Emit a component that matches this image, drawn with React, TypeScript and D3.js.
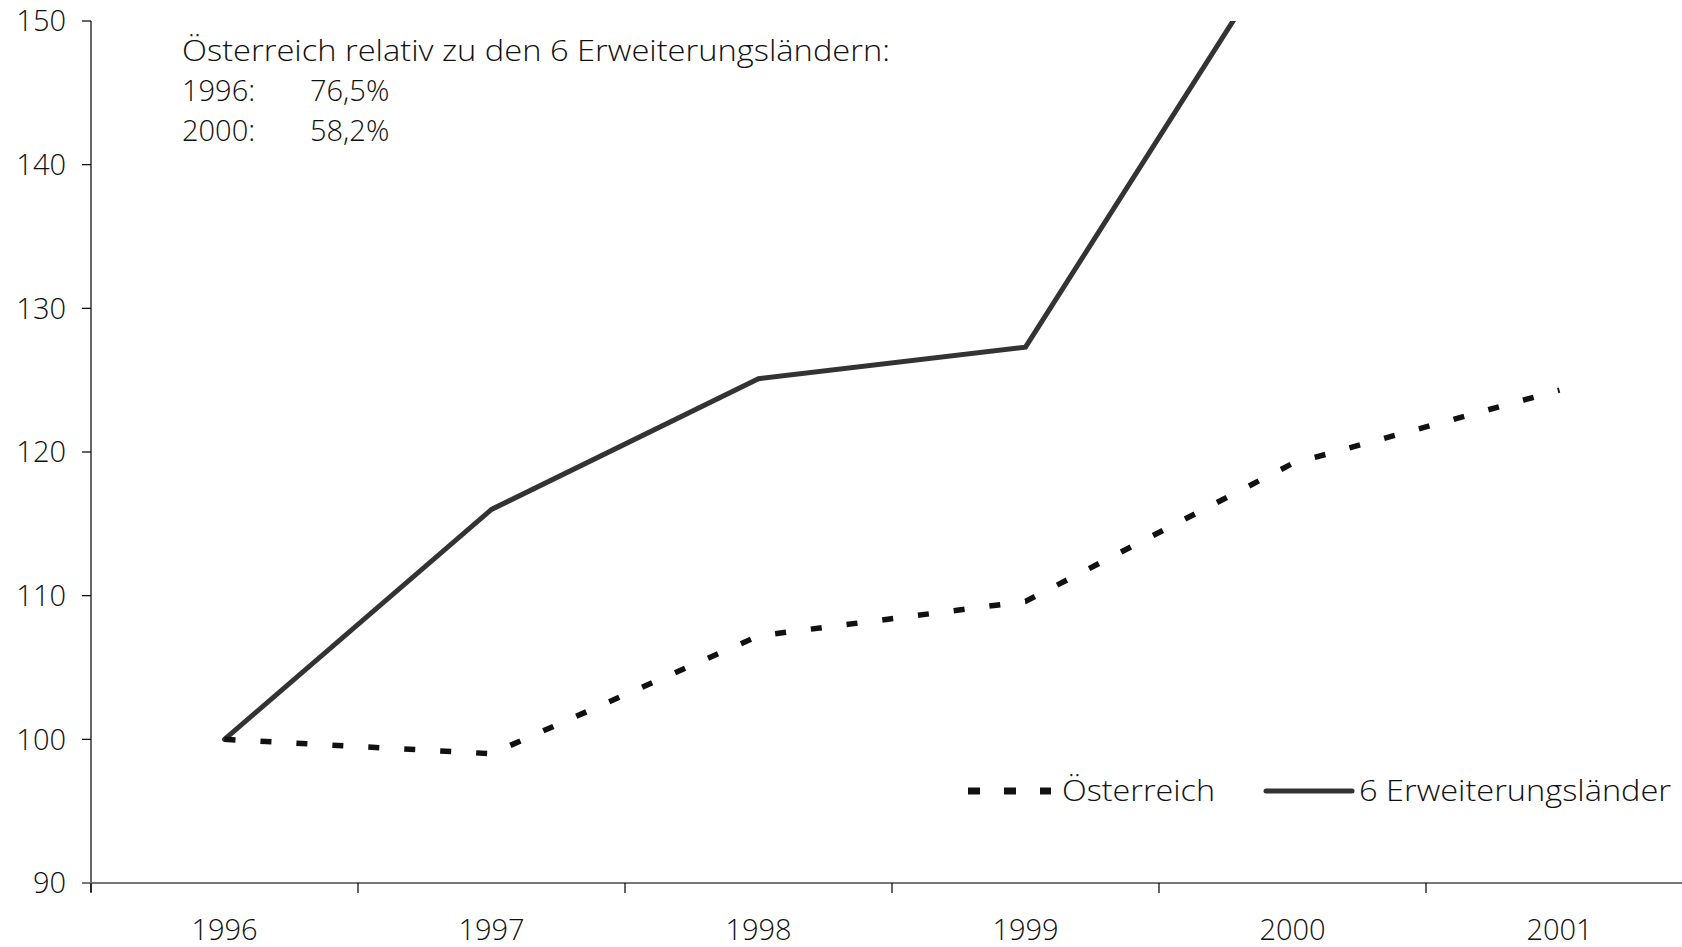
import React, { useEffect, useRef } from 'react';
import * as d3 from 'd3';

const years = ['1996', '1997', '1998', '1999', '2000', '2001'];
const oesterreich = [100, 99.0, 107.2, 109.6, 119.2, 124.3];
const erweiterung = [100, 116.0, 125.1, 127.3, 156.5];
const yTicks = [90, 100, 110, 120, 130, 140, 150];
const noteLines = [
  ['Österreich relativ zu den 6 Erweiterungsländern:', ''],
  ['1996:', '76,5%'],
  ['2000:', '58,2%'],
];
const legendItems = ['Österreich', '6 Erweiterungsländer'];

const W = 1682;
const H = 947;
const FONT = '"Open Sans", Lato, sans-serif';

const App: React.FC = () => {
  const ref = useRef<SVGSVGElement>(null);

  useEffect(() => {
    if (!ref.current) return;
    const svg = d3.select(ref.current);
    svg.selectAll('*').remove();

    const left = 91;
    const top = 21;
    const bottom = 883;
    const band = 267;

    const x = d3.scaleBand<string>().domain(years).range([left, left + band * years.length]);
    const y = d3.scaleLinear().domain([90, 150]).range([bottom, top]);
    const cx = (yr: string) => (x(yr) ?? 0) + x.bandwidth() / 2;

    svg
      .append('defs')
      .append('clipPath')
      .attr('id', 'plot-clip')
      .append('rect')
      .attr('x', left)
      .attr('y', top)
      .attr('width', W - left)
      .attr('height', bottom - top);

    const txt = (g: d3.Selection<SVGGElement, unknown, null, undefined>) =>
      g.attr('font-family', FONT).attr('font-size', 29).attr('font-weight', 300).attr('fill', '#111');

    // y axis
    const yAxis = svg.append('g').call(txt);
    yAxis.append('line').attr('x1', left).attr('x2', left).attr('y1', top).attr('y2', bottom + 9).attr('stroke', '#000').attr('stroke-width', 1.2);
    yTicks.forEach((t) => {
      yAxis.append('line').attr('x1', left - 9).attr('x2', left).attr('y1', y(t)).attr('y2', y(t)).attr('stroke', '#000').attr('stroke-width', 1.2);
      yAxis
        .append('text')
        .attr('x', left - 25)
        .attr('y', y(t))
        .attr('dy', '0.36em')
        .attr('text-anchor', 'end')
        .text(t);
    });

    // x axis
    const xAxis = svg.append('g').call(txt);
    xAxis.append('line').attr('x1', left - 9).attr('x2', W).attr('y1', bottom).attr('y2', bottom).attr('stroke', '#777').attr('stroke-width', 2);
    years.forEach((yr) => {
      const bx = x(yr) ?? 0;
      xAxis.append('line').attr('x1', bx).attr('x2', bx).attr('y1', bottom).attr('y2', bottom + 10).attr('stroke', '#000').attr('stroke-width', 1.2);
      xAxis
        .append('text')
        .attr('x', cx(yr))
        .attr('y', bottom + 57)
        .attr('text-anchor', 'middle')
        .text(yr);
    });

    const line = d3
      .line<number>()
      .x((_d, i) => cx(years[i]))
      .y((d) => y(d));

    const plot = svg.append('g').attr('clip-path', 'url(#plot-clip)');

    plot
      .append('path')
      .attr('d', line(erweiterung))
      .attr('fill', 'none')
      .attr('stroke', '#333')
      .attr('stroke-width', 5)
      .attr('stroke-linecap', 'round')
      .attr('stroke-linejoin', 'miter');

    plot
      .append('path')
      .attr('d', line(oesterreich))
      .attr('fill', 'none')
      .attr('stroke', '#111')
      .attr('stroke-width', 5.5)
      .attr('stroke-dasharray', '11,25');

    // annotation
    const note = svg.append('g').call(txt);
    const noteWidths = [708, 0, 0];
    noteLines.forEach(([a, b], i) => {
      const t = note.append('text').attr('x', 182).attr('y', 61 + i * 40).text(a);
      if (noteWidths[i]) t.attr('textLength', noteWidths[i]).attr('lengthAdjust', 'spacingAndGlyphs');
      if (b) note.append('text').attr('x', 310).attr('y', 61 + i * 40).text(b);
    });

    // legend
    const lg = svg.append('g').call(txt);
    const ly = 791;
    lg.append('line').attr('x1', 968).attr('x2', 1051).attr('y1', ly).attr('y2', ly).attr('stroke', '#111').attr('stroke-width', 7).attr('stroke-dasharray', '12,24');
    lg.append('text').attr('x', 1062).attr('y', ly).attr('dy', '0.36em').attr('textLength', 153).attr('lengthAdjust', 'spacingAndGlyphs').text(legendItems[0]);
    lg.append('line').attr('x1', 1266).attr('x2', 1352).attr('y1', ly).attr('y2', ly).attr('stroke', '#333').attr('stroke-width', 5).attr('stroke-linecap', 'round');
    lg.append('text').attr('x', 1359).attr('y', ly).attr('dy', '0.36em').attr('textLength', 312).attr('lengthAdjust', 'spacingAndGlyphs').text(legendItems[1]);
  }, []);

  return (
    <svg
      ref={ref}
      width={W}
      height={H}
      style={{ position: 'absolute', left: 0, top: 0, display: 'block', background: '#fff' }}
    />
  );
};

export default App;
